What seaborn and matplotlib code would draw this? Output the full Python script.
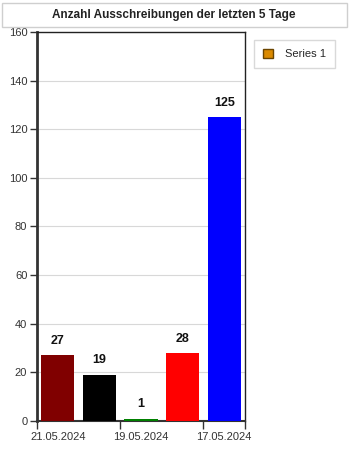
import matplotlib
matplotlib.use("Agg")
import matplotlib.pyplot as plt
import seaborn as sns
import pandas as pd
from matplotlib.patches import Rectangle, Patch

categories = ["21.05.2024", "20.05.2024", "19.05.2024", "18.05.2024", "17.05.2024"]
values = [27, 19, 1, 28, 125]
bar_colors = ["#800000", "#000000", "#008000", "#FF0000", "#0000FF"]
shown_labels = ["21.05.2024", "19.05.2024", "17.05.2024"]
title = "Anzahl Ausschreibungen der letzten 5 Tage"
series_name = "Series 1"
yticks = [0, 20, 40, 60, 80, 100, 120, 140, 160]

sns.set_theme(style="white")
plt.rcParams["font.family"] = ["Liberation Sans", "DejaVu Sans"]

W, H = 350, 450
fig = plt.figure(figsize=(W / 100, H / 100), dpi=100)
fig.patch.set_facecolor("white")

ax = fig.add_axes([37 / W, 1 - 421 / H, (245 - 37) / W, (421 - 32) / H])

df = pd.DataFrame({"cat": categories, "val": values})
sns.barplot(data=df, x="cat", y="val", hue="cat", palette=bar_colors,
            legend=False, width=0.8, ax=ax, saturation=1, zorder=3, linewidth=0)

for cont in ax.containers:
    ax.bar_label(cont, padding=6, fontsize=9, fontweight="bold", color="#111111")

ax.set_xlim(-0.5, 4.5)
ax.set_ylim(0, 160)
ax.set_yticks(yticks)
ax.set_yticklabels([str(v) for v in yticks], fontsize=8, color="#333333")
ax.yaxis.grid(True, color="#d8d8d8", linewidth=0.8, zorder=0)
ax.xaxis.grid(False)
ax.tick_params(axis="y", direction="out", length=5, width=1, color="#333333", left=True, pad=2)

pos = [categories.index(c) for c in shown_labels]
ax.set_xticks(pos)
ax.set_xticklabels(shown_labels, fontsize=8, color="#333333")
ax.tick_params(axis="x", which="major", length=0, pad=8)
ax.set_xticks([-0.5, 1.5, 3.5, 4.5], minor=True)
ax.tick_params(axis="x", which="minor", direction="out", length=6, width=1, color="#333333", bottom=True)
ax.set_xlabel("")
ax.set_ylabel("")

ax.spines["left"].set_color("#333333")
ax.spines["left"].set_linewidth(2)
ax.spines["bottom"].set_color("#333333")
ax.spines["bottom"].set_linewidth(1.5)
for s in ["top", "right"]:
    ax.spines[s].set_color("#222222")
    ax.spines[s].set_linewidth(1)
    ax.spines[s].set_visible(True)

# title box
fig.patches.append(Rectangle((2 / W, 1 - 27 / H), 345 / W, 24 / H, transform=fig.transFigure,
                             facecolor="white", edgecolor="#cfcfcf", linewidth=1))
fig.text(174 / W, 1 - 15 / H, title, ha="center", va="center", fontsize=8.5,
         fontweight="bold", color="#222222")

# legend
handle = Patch(facecolor="#DB8A00", edgecolor="#6b4500", linewidth=1)
leg = fig.legend([handle], [series_name], loc="upper left",
                 bbox_to_anchor=(254 / W, 1 - 40 / H), fontsize=8, frameon=True,
                 fancybox=False, handlelength=0.9, handleheight=0.9, borderpad=0.8,
                 handletextpad=1.1, borderaxespad=0)
leg.get_frame().set_edgecolor("#d0d0d0")
leg.get_frame().set_linewidth(1)

fig.savefig("out.png", dpi=100)
